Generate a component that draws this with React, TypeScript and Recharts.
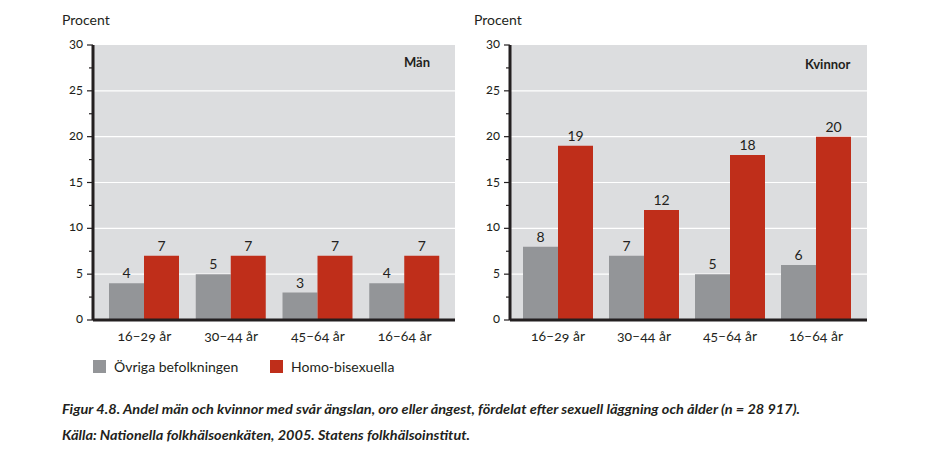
import { BarChart, Bar, XAxis, YAxis, CartesianGrid, LabelList, Legend } from 'recharts';

const ageGroups = ['16–29 år', '30–44 år', '45–64 år', '16–64 år'];
const menOther = [4, 5, 3, 4];
const menHomo = [7, 7, 7, 7];
const womenOther = [8, 7, 5, 6];
const womenHomo = [19, 12, 18, 20];
const yTicks = [0, 2.5, 5, 7.5, 10, 12.5, 15, 17.5, 20, 22.5, 25, 27.5, 30];
const gridValues = [5, 10, 15, 20, 25];

const menData = ageGroups.map((age, i) => ({ age, other: menOther[i], homo: menHomo[i] }));
const womenData = ageGroups.map((age, i) => ({ age, other: womenOther[i], homo: womenHomo[i] }));

const FONT = 'Lato, "Open Sans", sans-serif';
const INK = '#231f20';
const GREY = '#939598';
const RED = '#bf2e1a';
const PANEL = '#dcdddf';

function YTick(props: any) {
  const { x, y, payload } = props;
  const axisX = x + 10;
  const major = payload.value % 5 === 0;
  return (
    <g>
      <line x1={axisX - (major ? 6 : 4)} x2={axisX} y1={y} y2={y} stroke={INK} strokeWidth={1.2} />
      {major && (
        <text x={x} y={y} dy={3} textAnchor="end" fill={INK} fontSize={13} fontFamily={FONT}
          style={{ fontVariantNumeric: 'oldstyle-nums' }}>
          {payload.value}
        </text>
      )}
    </g>
  );
}

function LegendContent() {
  const items = [
    { name: 'Övriga befolkningen', color: GREY, w: 177 },
    { name: 'Homo-bisexuella', color: RED, w: 150 },
  ];
  return (
    <div style={{ display: 'flex', fontFamily: FONT, fontSize: 14, color: INK }}>
      {items.map((it) => (
        <div key={it.name} style={{ display: 'flex', alignItems: 'center', width: it.w }}>
          <span style={{ width: 13, height: 13, background: it.color, marginRight: 8, display: 'inline-block' }} />
          <span>{it.name}</span>
        </div>
      ))}
    </div>
  );
}

function Panel({ data, yWidth, width, height, bottom, pad, legend }: any) {
  return (
    <BarChart width={width} height={height} data={data} barSize={35} barGap={0}
      margin={{ top: 45, right: 5, bottom, left: 0 }}>
      <CartesianGrid horizontal vertical={false} horizontalValues={gridValues} stroke="#ffffff" strokeWidth={1.2} fill={PANEL} />
      <XAxis dataKey="age" tickLine={false} tickSize={0} tickMargin={11} height={40} padding={pad}
        axisLine={{ stroke: INK, strokeWidth: 3 }}
        tick={{ fill: INK, fontSize: 14, fontFamily: FONT, style: { fontVariantNumeric: 'oldstyle-nums' } }} />
      <YAxis domain={[0, 30]} ticks={yTicks} interval={0} width={yWidth} tickLine={false} tickSize={6} tickMargin={4}
        axisLine={{ stroke: INK, strokeWidth: 3 }} tick={<YTick />} />
      {legend && (
        <Legend verticalAlign="middle" align="center" layout="horizontal" content={<LegendContent />}
          wrapperStyle={{ top: 358, left: 93, width: 'auto' }} />
      )}
      <Bar dataKey="other" name="Övriga befolkningen" fill={GREY} isAnimationActive={false}>
        <LabelList dataKey="other" position="top" offset={5} fill={INK} fontSize={14} fontFamily={FONT} />
      </Bar>
      <Bar dataKey="homo" name="Homo-bisexuella" fill={RED} isAnimationActive={false}>
        <LabelList dataKey="homo" position="top" offset={5} fill={INK} fontSize={14} fontFamily={FONT} />
      </Bar>
    </BarChart>
  );
}

const textStyle: any = { position: 'absolute', fontFamily: FONT, color: INK, whiteSpace: 'nowrap' };

export default function App() {
  return (
    <div style={{ position: 'absolute', left: 0, top: 0, width: 928, height: 462, background: '#fff' }}>
      <div style={{ position: 'absolute', left: 0, top: 0 }}>
        <Panel data={menData} yWidth={93} width={460} height={390} bottom={30} pad={{ left: 8, right: 7 }} legend />
      </div>
      <div style={{ position: 'absolute', left: 460, top: 0 }}>
        <Panel data={womenData} yWidth={50} width={412} height={360} bottom={0} pad={{ left: 5, right: 8 }} />
      </div>
      <div style={{ ...textStyle, left: 62, top: 11, fontSize: 14 }}>Procent</div>
      <div style={{ ...textStyle, left: 474, top: 11, fontSize: 14 }}>Procent</div>
      <div style={{ ...textStyle, left: 404, top: 54, fontSize: 13, fontWeight: 700 }}>Män</div>
      <div style={{ ...textStyle, left: 805, top: 56, fontSize: 13, fontWeight: 700 }}>Kvinnor</div>
      <svg width={928} height={60} style={{ position: 'absolute', left: 0, top: 395 }}>
        <text x={62} y={19} fontFamily={FONT} fontStyle="italic" fontWeight={700} fontSize={13} fill={INK}
          textLength={738} lengthAdjust="spacingAndGlyphs">
          Figur 4.8. Andel män och kvinnor med svår ängslan, oro eller ångest, fördelat efter sexuell läggning och ålder (n = 28 917).
        </text>
        <text x={62} y={45} fontFamily={FONT} fontStyle="italic" fontWeight={700} fontSize={13} fill={INK}
          textLength={408} lengthAdjust="spacingAndGlyphs">
          Källa: Nationella folkhälsoenkäten, 2005. Statens folkhälsoinstitut.
        </text>
      </svg>
    </div>
  );
}
